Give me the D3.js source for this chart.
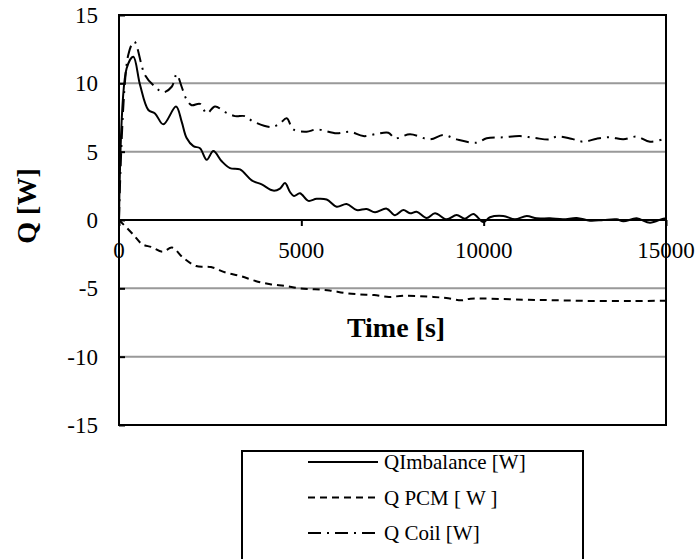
<!DOCTYPE html>
<html>
<head>
<meta charset="utf-8">
<script src="https://cdn.jsdelivr.net/npm/d3@7"></script>
<style>
    body { margin: 0; background: white; }
</style>
</head>
<body>
<div id="chart"></div>
<script>
// values: time [s] and power [W]
const imbTime = [0, 210, 393, 576, 805, 987, 1216, 1563, 1718, 1855, 2040, 2221, 2405, 2587, 2816, 3044, 3318,
    3639, 3913, 4232, 4415, 4552, 4689, 4799, 4963, 5192, 5420, 5694, 5968, 6242, 6517, 6791, 7020, 7340,
    7568, 7797, 7980, 8163, 8437, 8665, 8985, 9259, 9488, 9716, 9990, 10173, 10538, 10858, 11180, 11454,
    11819, 12184, 12551, 12916, 13281, 13648, 13830, 14196, 14561, 14926, 15000];
const imbValues = [0, 11.1, 11.95, 9.9, 8.05, 7.8, 7.0, 8.3, 7.2, 6.0, 5.4, 5.25, 4.4, 5.05, 4.3, 3.8, 3.7,
    2.9, 2.6, 2.15, 2.3, 2.7, 2.05, 1.75, 1.95, 1.4, 1.55, 1.5, 0.97, 1.17, 0.73, 0.8, 0.56, 0.83,
    0.35, 0.73, 0.49, 0.6, 0.15, 0.49, 0.05, 0.37, 0.1, 0.44, -0.15, 0.2, 0.29, 0.05, 0.29, 0.12,
    0.12, 0.05, 0.15, -0.05, 0, 0.05, -0.1, 0.12, -0.2, 0.1, 0.1];

const pcmTime = [0, 386, 641, 895, 1200, 1454, 1759, 2115, 2522, 2929, 3336, 3742, 4149, 4556, 4963, 5369,
    5776, 6183, 6590, 6997, 7403, 7810, 8624, 9030, 9386, 9641, 11064, 12081, 13098, 14114, 15000];
const pcmValues = [0, -1.05, -1.78, -1.98, -2.32, -2.02, -2.76, -3.37, -3.44, -3.85, -4.1, -4.46, -4.7, -4.83,
    -5.0, -5.07, -5.15, -5.34, -5.44, -5.49, -5.63, -5.54, -5.63, -5.73, -5.88, -5.76, -5.83, -5.88,
    -5.93, -5.93, -5.9];

const coilTime = [0, 255, 420, 713, 987, 1216, 1445, 1581, 1718, 1855, 1992, 2221, 2405, 2633, 2907, 3181,
    3455, 3683, 4187, 4415, 4598, 4781, 5147, 5420, 5968, 6334, 6700, 7066, 7386, 7568, 7980, 8528,
    8894, 9259, 9808, 10082, 10538, 10996, 11400, 11819, 12003, 12400, 12733, 13100, 13464, 13830,
    14196, 14561, 15000];
const coilValues = [0, 12.1, 13.05, 10.6, 9.75, 9.34, 9.75, 10.66, 9.75, 8.8, 8.4, 8.5, 7.8, 8.3, 7.9, 7.6,
    7.6, 7.2, 6.8, 7.07, 7.44, 6.63, 6.46, 6.63, 6.34, 6.46, 6.14, 6.3, 6.39, 5.98, 6.27, 5.9,
    6.22, 5.9, 5.66, 5.98, 6.05, 6.14, 6.0, 5.9, 6.1, 5.95, 5.73, 5.95, 6.05, 5.9,
    6.1, 5.73, 5.98];

const xTicks = [0, 5000, 10000, 15000];
const yTicks = [-15, -10, -5, 0, 5, 10, 15];
const seriesNames = ["QImbalance [W]", "Q PCM [ W ]", "Q Coil [W]"];

const serif = "'Liberation Serif', 'Times New Roman', serif";

class lineChartViz {
    constructor(parentElement) {
        this.parentElement = parentElement;
        this.series = [
            {name: seriesNames[0], time: imbTime, values: imbValues, dash: null},
            {name: seriesNames[1], time: pcmTime, values: pcmValues, dash: "7,5"},
            {name: seriesNames[2], time: coilTime, values: coilValues, dash: "13,6,2,6"}
        ];
        this.initVis();
    }

    initVis() {
        let vis = this;
        vis.margin = {top: 15, right: 29, bottom: 134, left: 119};
        vis.width = 695 - vis.margin.left - vis.margin.right;
        vis.height = 559 - vis.margin.top - vis.margin.bottom;

        vis.root = d3.select("#" + vis.parentElement).append("svg")
            .attr("width", 695)
            .attr("height", 559)
            .style("font-family", serif);

        vis.svg = vis.root.append("g")
            .attr("transform", "translate(" + vis.margin.left + "," + vis.margin.top + ")");

        vis.x = d3.scaleLinear().domain([0, 15000]).range([0, vis.width]);
        vis.y = d3.scaleLinear().domain([-15, 15]).range([vis.height, 0]);

        vis.svg.append("clipPath").attr("id", "plotClip")
            .append("rect").attr("width", vis.width).attr("height", vis.height);

        vis.updateVis();
    }

    updateVis() {
        let vis = this;

        // gray gridlines
        vis.svg.selectAll(".grid")
            .data(yTicks.filter(d => d !== 0 && Math.abs(d) !== 15))
            .enter().append("line")
            .attr("class", "grid")
            .attr("x1", 0).attr("x2", vis.width)
            .attr("y1", d => vis.y(d)).attr("y2", d => vis.y(d))
            .attr("stroke", "#999").attr("stroke-width", 2);

        // lines
        let line = d3.line()
            .x(d => vis.x(d[0]))
            .y(d => vis.y(d[1]))
            .curve(d3.curveCatmullRom.alpha(0.5));

        vis.svg.append("g").attr("clip-path", "url(#plotClip)")
            .selectAll("path")
            .data(vis.series)
            .enter().append("path")
            .attr("d", s => line(s.time.map((t, i) => [t, s.values[i]])))
            .attr("fill", "none")
            .attr("stroke", "black")
            .attr("stroke-width", 2)
            .attr("stroke-dasharray", s => s.dash);

        // y axis, ticks inside
        let yAxis = d3.axisRight(vis.y).tickValues(yTicks).tickSize(6).tickFormat("");
        vis.svg.append("g").attr("class", "y-axis").call(yAxis);
        vis.svg.select(".y-axis .domain").remove();
        vis.svg.selectAll(".y-axis line").attr("stroke-width", 2);

        vis.svg.selectAll(".ylab")
            .data(yTicks)
            .enter().append("text")
            .attr("class", "ylab")
            .attr("x", -21)
            .attr("y", d => vis.y(d))
            .attr("dy", "0.35em")
            .attr("text-anchor", "end")
            .style("font-family", serif)
            .style("font-size", "23px")
            .text(d => d);

        // x axis sits on zero
        let xAxis = d3.axisBottom(vis.x).tickValues(xTicks).tickSize(6).tickFormat("");
        vis.svg.append("g").attr("class", "x-axis")
            .attr("transform", "translate(0," + vis.y(0) + ")")
            .call(xAxis);
        vis.svg.selectAll(".x-axis path, .x-axis line").attr("stroke-width", 2);
        vis.svg.select(".x-axis .domain").attr("d", "M0,0H" + vis.width);

        vis.svg.selectAll(".xlab")
            .data(xTicks)
            .enter().append("text")
            .attr("class", "xlab")
            .attr("x", d => vis.x(d))
            .attr("y", vis.y(0) + 38)
            .attr("text-anchor", "middle")
            .style("font-family", serif)
            .style("font-size", "23px")
            .text(d => d);

        // plot border
        vis.svg.append("rect")
            .attr("width", vis.width).attr("height", vis.height)
            .attr("fill", "none").attr("stroke", "black").attr("stroke-width", 2);

        // titles
        vis.root.append("text")
            .attr("transform", "translate(36,206) rotate(-90)")
            .attr("text-anchor", "middle")
            .style("font-family", serif)
            .style("font-size", "28px").style("font-weight", "bold")
            .text("Q [W]");

        vis.root.append("text")
            .attr("x", 396).attr("y", 337)
            .attr("text-anchor", "middle")
            .style("font-family", serif)
            .style("font-size", "28px").style("font-weight", "bold")
            .text("Time [s]");

        // legend
        let legend = vis.root.append("g").attr("transform", "translate(242,451)");
        legend.append("rect")
            .attr("width", 341).attr("height", 130)
            .attr("fill", "white").attr("stroke", "black").attr("stroke-width", 2);

        let item = legend.selectAll(".item")
            .data(vis.series)
            .enter().append("g")
            .attr("class", "item")
            .attr("transform", (d, i) => "translate(0," + (11 + i * 35.5) + ")");

        item.append("line")
            .attr("x1", 66).attr("x2", 136)
            .attr("stroke", "black").attr("stroke-width", 2)
            .attr("stroke-dasharray", d => d.dash);

        item.append("text")
            .attr("x", 142).attr("y", 7)
            .style("font-family", serif)
            .style("font-size", "21px")
            .text(d => d.name);
    }
}

new lineChartViz("chart");
</script>
</body>
</html>
